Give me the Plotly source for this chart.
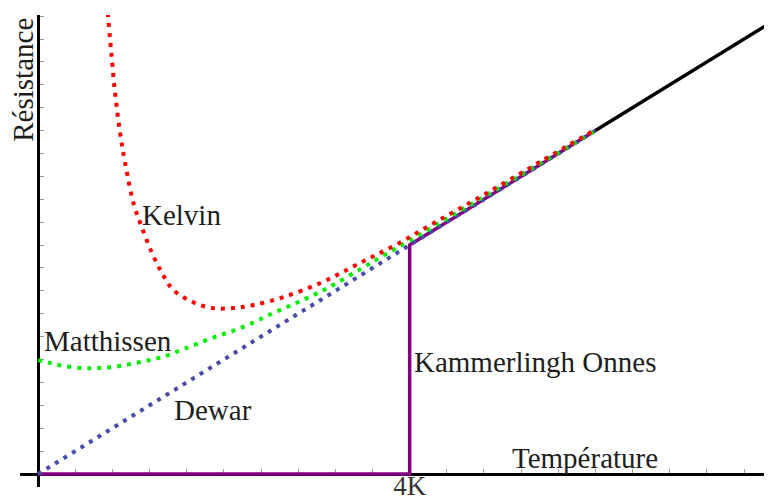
import plotly.graph_objects as go

# Température (K) / Résistance (unités arbitraires)
kelvin_t = [0.73, 0.754, 0.786, 0.829, 0.883, 0.937, 1.033, 1.12, 1.227, 1.335,
            1.453, 1.658, 1.873, 2.10, 2.31, 2.64, 3.07, 3.47, 3.87, 4.3, 4.8, 5.4, 6.0]
kelvin_r = [8.4, 7.99, 7.41, 6.66, 5.96, 5.44, 4.70, 4.30, 3.86, 3.51,
            3.22, 3.01, 2.90, 2.90, 2.95, 3.09, 3.36, 3.69, 4.02, 4.42, 4.88, 5.45, 6.02]

matthissen_t = [0.0, 0.13, 0.27, 0.48, 0.635, 0.81, 0.99, 1.17, 1.35, 1.58, 1.88,
                2.21, 2.53, 2.85, 3.14, 3.47, 3.71, 4.0, 4.5, 5.0, 5.5, 6.0]
matthissen_r = [1.99, 1.94, 1.89, 1.85, 1.85, 1.87, 1.92, 1.98, 2.05, 2.19, 2.38,
                2.57, 2.81, 3.04, 3.27, 3.58, 3.81, 4.08, 4.56, 5.04, 5.52, 6.0]

dewar_t = [0.0, 6.0]
dewar_r = [0.0, 6.0]

onnes_t = [0.0, 4.0, 4.0, 6.0]
onnes_r = [0.0, 0.0, 4.0, 6.0]

haute_t = [6.0, 8.2]
haute_r = [6.0, 8.2]

x_ticks = [0.4, 0.8, 1.2, 1.6, 2.0, 2.4, 2.8, 3.2, 3.6, 4.0,
           4.4, 4.8, 5.2, 5.6, 6.0, 6.4, 6.8, 7.2, 7.6]
x_labels = ['', '', '', '', '', '', '', '', '', '4K',
            '', '', '', '', '', '', '', '', '']
y_ticks = [0.4, 0.8, 1.2, 1.6, 2.0, 2.4, 2.8, 3.2, 3.6, 4.0,
           4.4, 4.8, 5.2, 5.6, 6.0, 6.4, 6.8, 7.2, 7.6, 8.0]

SERIF = 'Liberation Serif, Times New Roman, serif'
TXT = '#1e1e1e'
DOTS = '4px,6px'

fig = go.Figure()
fig.add_trace(go.Scatter(x=haute_t, y=haute_r, mode='lines',
                         line=dict(color='black', width=3.5)))
fig.add_trace(go.Scatter(x=onnes_t, y=onnes_r, mode='lines',
                         line=dict(color='#800080', width=3.5)))
fig.add_trace(go.Scatter(x=dewar_t, y=dewar_r, mode='lines',
                         line=dict(color='#4b4ba8', width=4, dash=DOTS)))
fig.add_trace(go.Scatter(x=matthissen_t, y=matthissen_r, mode='lines',
                         line=dict(color='#00ee00', width=4, dash=DOTS, shape='spline')))
fig.add_trace(go.Scatter(x=kelvin_t, y=kelvin_r, mode='lines',
                         line=dict(color='#ff0000', width=4, dash=DOTS, shape='spline')))

labels = [
    ('Kelvin', 1.10, 4.52),
    ('Matthissen', 0.04, 2.33),
    ('Dewar', 1.44, 1.12),
    ('Kammerlingh Onnes', 4.03, 1.95),
    ('Température', 5.08, 0.28),
]
for txt, lx, ly in labels:
    fig.add_annotation(x=lx, y=ly, text=txt, showarrow=False,
                       xanchor='left', yanchor='middle',
                       font=dict(family=SERIF, size=29, color=TXT))

fig.add_annotation(x=-0.155, y=8.0, text='Résistance', showarrow=False,
                   textangle=-90, xanchor='center', yanchor='top',
                   font=dict(family=SERIF, size=29, color=TXT))

# la page HTML décale la figure de 8 px (marge du body) : figure 764x491
fig.update_layout(
    width=764, height=491,
    margin=dict(l=12, r=0, t=7, b=12, autoexpand=False),
    paper_bgcolor='white', plot_bgcolor='white',
    showlegend=False,
    xaxis=dict(range=[-0.194, 7.9], anchor='free', position=13 / 472,
               automargin=False,
               showgrid=False, zeroline=False,
               showline=True, linecolor='black', linewidth=2.5,
               ticks='inside', ticklen=4, tickwidth=1, tickcolor='#999999',
               tickvals=x_ticks, ticktext=x_labels, ticklabelstandoff=-13,
               tickfont=dict(family=SERIF, size=27, color='#333333'),
               layer='below traces'),
    yaxis=dict(range=[-0.227, 8.02], anchor='free', position=18 / 752,
               automargin=False,
               showgrid=False, zeroline=False,
               showline=True, linecolor='black', linewidth=2.5,
               ticks='inside', ticklen=4, tickwidth=1, tickcolor='#999999',
               tickvals=y_ticks, showticklabels=False,
               layer='below traces'),
)

fig.write_html('out.html')
